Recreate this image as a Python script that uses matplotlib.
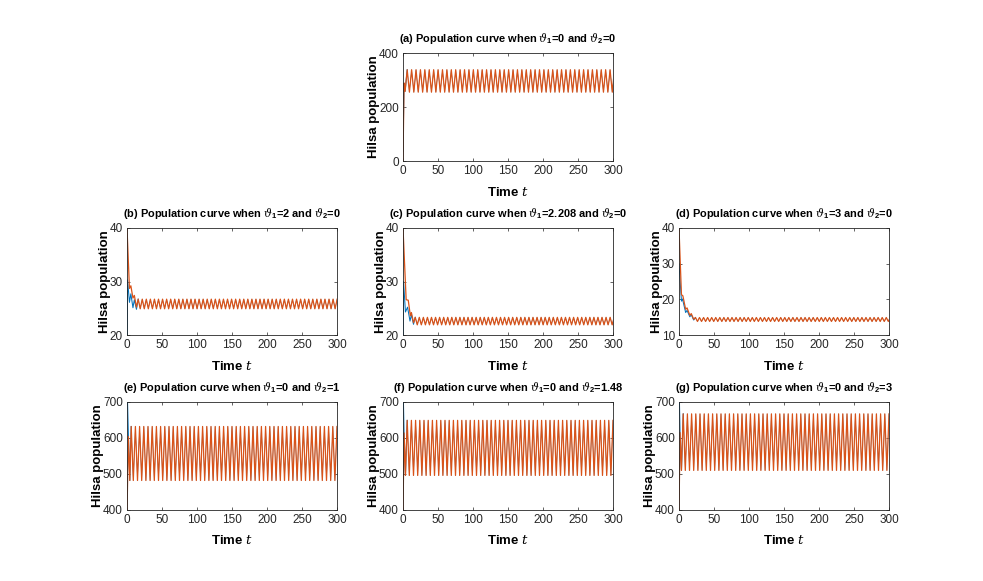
import numpy as np
import matplotlib
matplotlib.use("Agg")
import matplotlib.pyplot as plt

plt.rcParams['font.family'] = ['Liberation Sans Narrow', 'Liberation Sans', 'DejaVu Sans']
plt.rcParams['mathtext.fontset'] = 'custom'
plt.rcParams['mathtext.rm'] = 'Liberation Sans:bold'
plt.rcParams['mathtext.it'] = 'DejaVu Serif:italic'
plt.rcParams['mathtext.bf'] = 'Liberation Sans:bold'
plt.rcParams['mathtext.fallback'] = 'stix'

BLUE = '#0072BD'
ORANGE = '#D95319'

# ---------------- data ----------------
titles = [
    r'(a) Population curve when $\vartheta_1$=0 and $\vartheta_2$=0',
    r'(b) Population curve when $\vartheta_1$=2 and $\vartheta_2$=0',
    r'(c) Population curve when $\vartheta_1$=2.208 and $\vartheta_2$=0',
    r'(d) Population curve when $\vartheta_1$=3 and $\vartheta_2$=0',
    r'(e) Population curve when $\vartheta_1$=0 and $\vartheta_2$=1',
    r'(f) Population curve when $\vartheta_1$=0 and $\vartheta_2$=1.48',
    r'(g) Population curve when $\vartheta_1$=0 and $\vartheta_2$=3',
]
x_ticks = [0, 50, 100, 150, 200, 250, 300]
y_ticks = [
    [0, 200, 400],
    [20, 30, 40],
    [20, 30, 40],
    [10, 20, 30, 40],
    [400, 500, 600, 700],
    [400, 500, 600, 700],
    [400, 500, 600, 700],
]

# transient turning points (time, value) for orange and blue curves
a_orange_t = [0, 1.5, 3, 6];             a_orange_y = [0, 289, 258, 338]
a_blue_t = [0, 1.5, 3, 6];               a_blue_y = [35, 285, 258, 338]
b_orange_t = [0, 3.5, 5.5, 8.5, 10.5, 13.5, 16];   b_orange_y = [40, 28.7, 29.2, 26.9, 27.4, 25.2, 26.7]
b_blue_t = [0, 0.8, 3.5, 5.5, 8.5, 10.5, 13.5, 16]; b_blue_y = [12, 30.3, 26.1, 27.7, 25.1, 26.6, 24.8, 26.7]
c_orange_t = [0, 4.5, 7.5, 10.5, 12, 15, 17.5];     c_orange_y = [40, 26.6, 26.5, 23.6, 24.2, 22.3, 23.3]
c_blue_t = [0, 0.8, 3.5, 6.5, 10, 12, 15, 17.5];    c_blue_y = [12, 30, 24.3, 25.2, 22.6, 23.8, 22.0, 23.3]
d_orange_t = [0, 3.5, 5.5, 9.5, 11.5, 15.5, 17.5, 21, 23.5]; d_orange_y = [40, 21.3, 21.0, 17.2, 17.6, 15.5, 16.0, 14.4, 14.9]
d_blue_t = [0, 3.5, 5, 9.5, 11.5, 15.5, 17.5, 21, 23.5];     d_blue_y = [30, 19.5, 20.1, 16.3, 16.9, 15.1, 15.7, 14.2, 14.9]
e_orange_t = [0, 2, 4, 6];               e_orange_y = [390, 604, 482, 632]
e_blue_t = [0, 2, 4, 6];                 e_blue_y = [760, 604, 482, 632]
f_orange_t = [0, 1.5, 3.5, 6];           f_orange_y = [390, 614, 496, 649]
f_blue_t = [0, 1.5, 3.5, 6];             f_blue_y = [760, 614, 496, 649]
g_orange_t = [0, 1.5, 3.5, 6];           g_orange_y = [390, 615, 510, 667]
g_blue_t = [0, 1.5, 3.5, 6];             g_blue_y = [760, 615, 510, 667]

# steady oscillation: peak value, trough value, period
steady_peak = [338, 26.7, 23.3, 14.9, 632, 649, 667]
steady_trough = [255, 24.9, 21.9, 13.8, 482, 496, 510]
steady_period = [6.3, 5.8, 5.8, 5.8, 6.0, 6.0, 6.0]

orange_t = [a_orange_t, b_orange_t, c_orange_t, d_orange_t, e_orange_t, f_orange_t, g_orange_t]
orange_y = [a_orange_y, b_orange_y, c_orange_y, d_orange_y, e_orange_y, f_orange_y, g_orange_y]
blue_t = [a_blue_t, b_blue_t, c_blue_t, d_blue_t, e_blue_t, f_blue_t, g_blue_t]
blue_y = [a_blue_y, b_blue_y, c_blue_y, d_blue_y, e_blue_y, f_blue_y, g_blue_y]

T_END = 300


def extend(tt, yy, peak, trough, period):
    tt = list(tt); yy = list(yy)
    at_peak = abs(yy[-1] - peak) < abs(yy[-1] - trough)
    t = tt[-1]
    while t < T_END:
        t += period / 2
        at_peak = not at_peak
        tt.append(t)
        yy.append(peak if at_peak else trough)
    return np.array(tt), np.array(yy)


# ---------------- layout (pixel boxes: left, top, right, bottom) ----------------
W, H = 983, 581
boxes = [
    (403, 53, 613, 161),
    (127, 228, 337, 335), (403, 228, 613, 335), (679, 228, 889, 335),
    (127, 402, 337, 510), (403, 402, 613, 510), (679, 402, 889, 510),
]

fig = plt.figure(figsize=(W / 100, H / 100), dpi=100)
for i, (l, t, r, b) in enumerate(boxes):
    ax = fig.add_axes([l / W, 1 - b / H, (r - l) / W, (b - t) / H])
    bt, by = extend(blue_t[i], blue_y[i], steady_peak[i], steady_trough[i], steady_period[i])
    ot, oy = extend(orange_t[i], orange_y[i], steady_peak[i], steady_trough[i], steady_period[i])
    n_tr = len(blue_t[i])
    # blue: transient drawn normally; steady part lies under the orange curve
    ax.plot(bt[:n_tr], by[:n_tr], color=BLUE, lw=0.75)
    ax.plot(bt[n_tr - 1:], by[n_tr - 1:], color=BLUE, lw=0.3)
    ax.plot(ot, oy, color=ORANGE, lw=0.9)
    ax.set_xlim(0, 300)
    ax.set_ylim(y_ticks[i][0], y_ticks[i][-1])
    ax.set_xticks(x_ticks)
    ax.set_yticks(y_ticks[i])
    ax.tick_params(direction='in', top=True, right=True, length=2.5, width=0.5,
                   labelsize=8.5, colors='#262626', pad=3)
    for s in ax.spines.values():
        s.set_linewidth(0.6)
        s.set_color('#262626')
    ax.set_title(titles[i], fontsize=7.9, fontweight='bold', pad=8)
    ax.set_xlabel(r'Time $\mathit{t}$', fontsize=9.5, fontweight='bold', labelpad=6)
    ax.set_ylabel('Hilsa population', fontsize=9.5, fontweight='bold', labelpad=-1)

fig.savefig('out.png', dpi=100)
